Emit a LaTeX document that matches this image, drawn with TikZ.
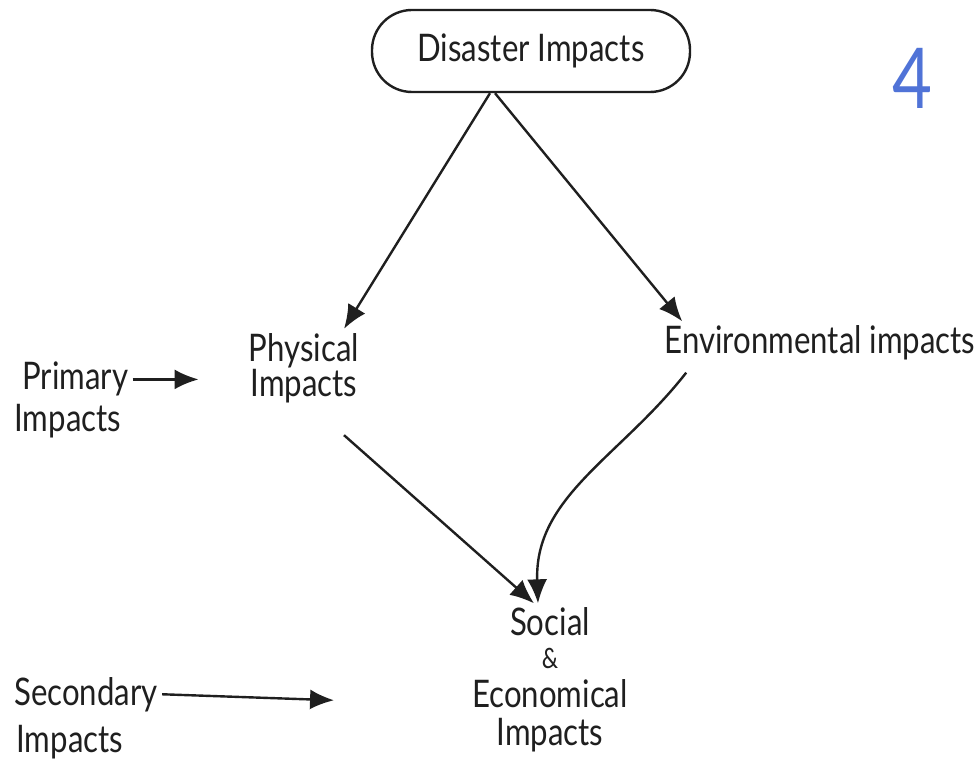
\documentclass[tikz,border=0pt]{standalone}
\usepackage{fontspec}
\setmainfont{Lato}[FakeStretch=0.82]
\usetikzlibrary{arrows.meta,positioning}
\usepackage{xcolor}
\newcommand{\myfnt}{\fontsize{19}{17.5}\selectfont}
\colorlet{inkgray}{black!88}
\definecolor{pagenum}{RGB}{80,115,215}
\tikzset{
    rootsty/.style={draw=inkgray,line width=1.2pt,rounded corners=20pt,minimum width=159pt,minimum height=41pt,font=\myfnt,text=inkgray},
    txtsty/.style={font=\myfnt,text=inkgray,align=center,inner sep=2pt},
    lftsty/.style={font=\myfnt,text=inkgray,align=left,inner sep=2pt,anchor=base west},
    arrsty/.style={draw=inkgray,line width=1.2pt,-{Latex[length=12pt,width=10pt]}},
    numsty/.style={font=\fontsize{42}{42}\selectfont,text=pagenum},
}

\begin{document}
\begin{tikzpicture}[x=0.5pt,y=-0.5pt]
  \useasboundingbox (0,0) rectangle (980,780);

  \node[rootsty] (dis) at (531,51) {Disaster Impacts};
  \node[numsty] (num) at (912,78) {4};

  \node[txtsty] (phys) at (304,368) {Physical\\Impacts};
  \node[txtsty] (env) at (820,343) {Environmental impacts};
  \node[txtsty] (soc) at (550,680) {Social\\[-1pt]{\fontsize{14}{14}\selectfont\&}\\[2pt]Economical\\[1.5pt]Impacts};

  % side notes
  \node[lftsty] (prim) at (18,390) {Primary};
  \node[lftsty] (primb) at (10,432) {Impacts};
  \node[lftsty] (sec) at (10,705) {Secondary};
  \node[lftsty] (secb) at (12,752) {Impacts};
  \coordinate[right=33pt of prim.east] (primtip);
  \coordinate[right=86pt of sec.east, yshift=-3pt] (sectip);

  \draw[arrsty] ([xshift=-20.5pt]dis.south) -- ([xshift=20pt]phys.north);
  \draw[arrsty] ([xshift=-18pt]dis.south) -- ([xshift=11pt]env.north west);
  \draw[arrsty] ([xshift=20pt,yshift=-14pt]phys.south) -- ([xshift=-8pt]soc.north);
  \draw[arrsty] ([xshift=13pt,yshift=-4pt]env.south west) to[out=-128,in=92] ([xshift=-6pt]soc.north);
  \draw[arrsty] (prim.east) -- (primtip);
  \draw[arrsty] (sec.east) -- (sectip);
\end{tikzpicture}
\end{document}
